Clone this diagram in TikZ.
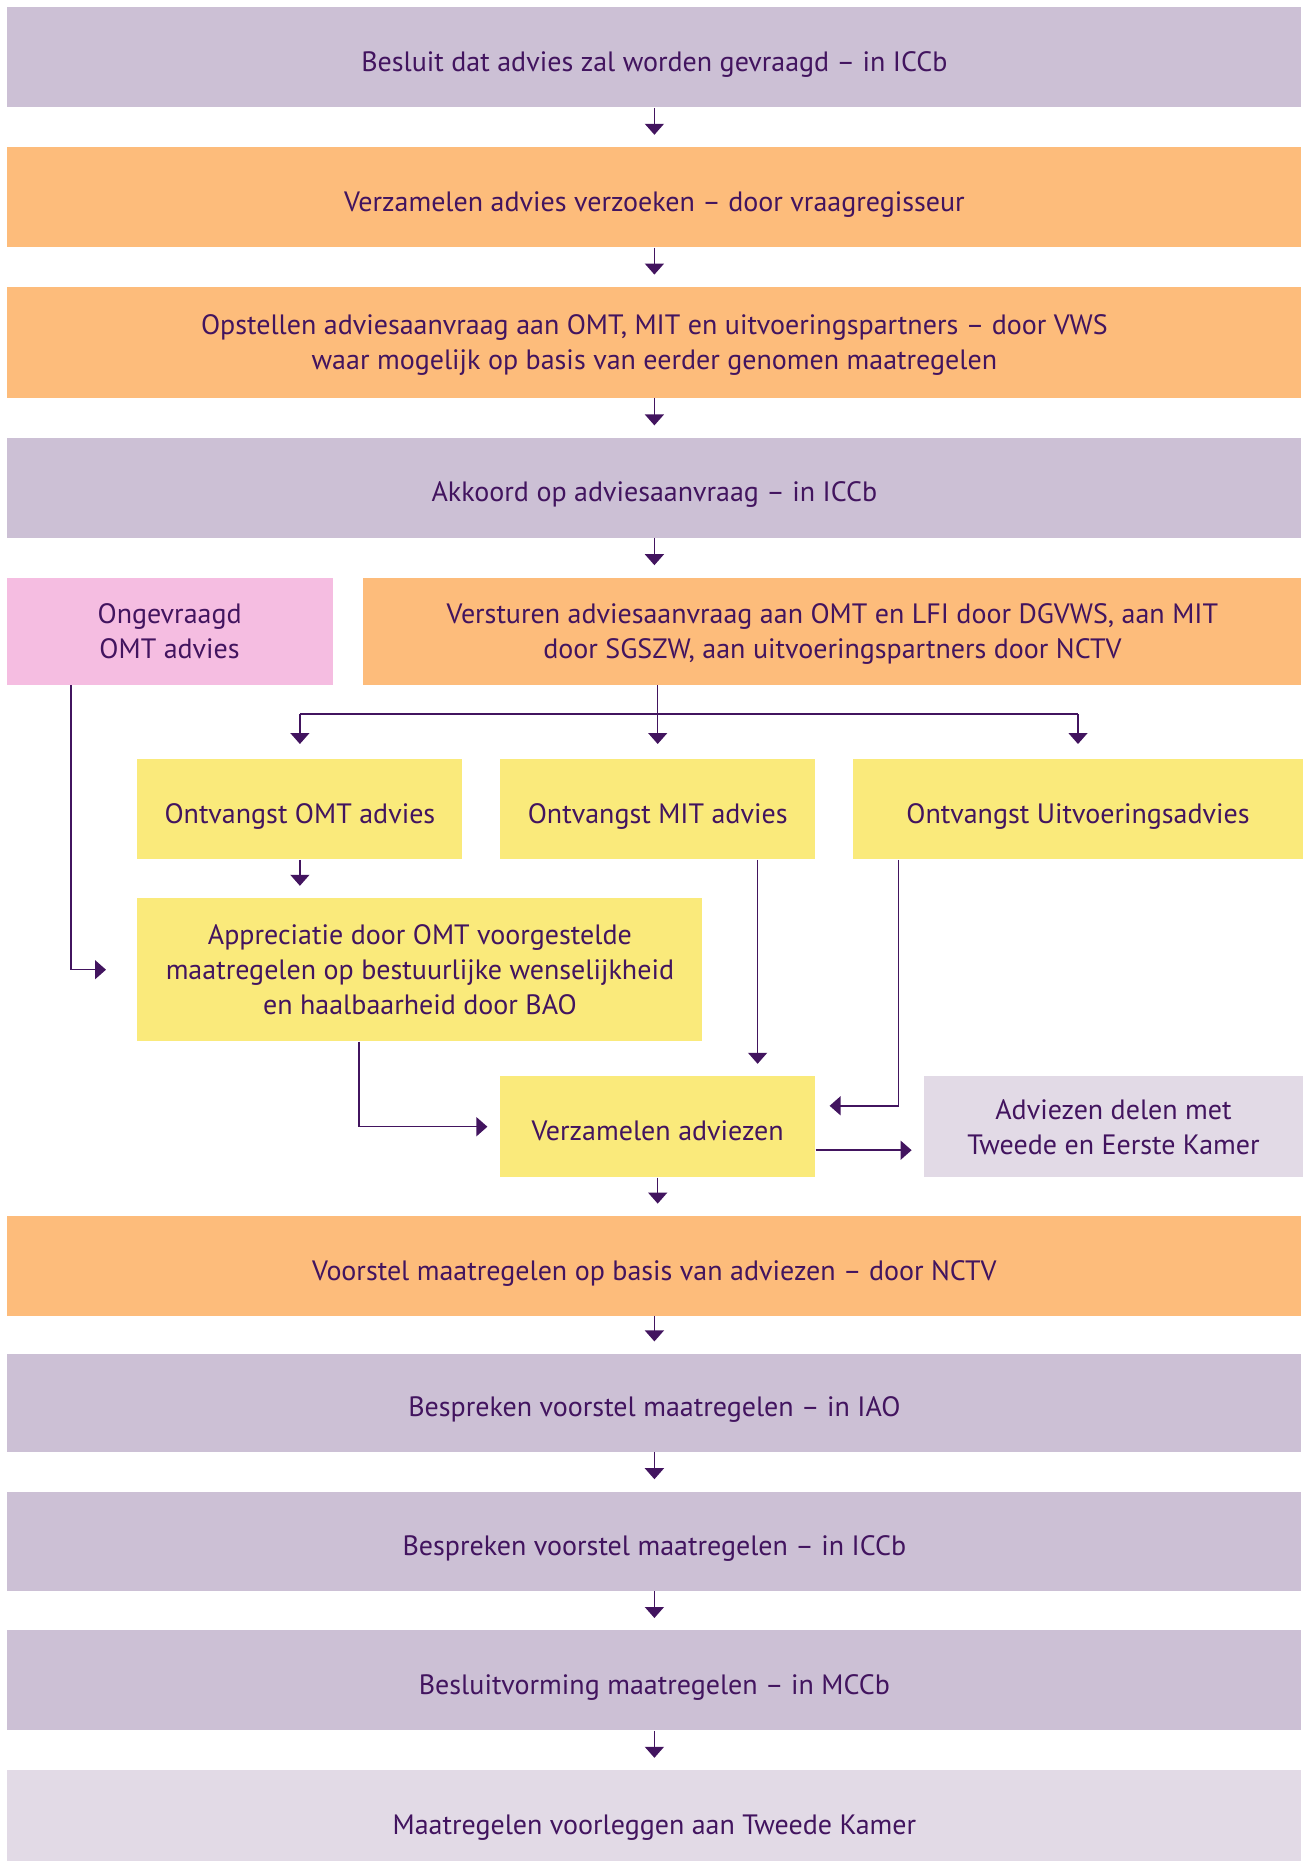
\documentclass[tikz,border=0pt]{standalone}
\usepackage{fontspec}
\setmainfont{PT Sans}
\usetikzlibrary{arrows.meta, positioning}
\definecolor{ink}{HTML}{42145F}
\definecolor{lavender}{HTML}{CCC0D5}
\definecolor{lavlight}{HTML}{E2DAE6}
\definecolor{orangebox}{HTML}{FDBC7B}
\definecolor{pinkbox}{HTML}{F5BDE1}
\definecolor{yellowbox}{HTML}{FAEA7B}
\tikzstyle{step_box} = [rectangle, inner sep=2pt, align=center, text=ink, text depth=0pt, font=\fontsize{14}{17.5}\selectfont]
\tikzstyle{one_line} = [step_box, text height=14pt]
\tikzstyle{phase_box} = [one_line, minimum width=647pt, minimum height=50pt]
\tikzstyle{flow_arrow} = [line width=0.75pt, draw=ink, -{Triangle[length=5.5pt, width=9.5pt]}, shorten >=6pt]

\begin{document}
\begin{tikzpicture}[x=1pt, y=1pt]
\useasboundingbox (0,0) rectangle (651.5,-930.5);

\node (besluit) [phase_box, fill=lavender, anchor=north west] at (3.5,-3.5) {Besluit dat advies zal worden gevraagd -- in ICCb};
\node (verzoeken) [phase_box, fill=orangebox, below=19.5pt of besluit] {Verzamelen advies verzoeken -- door vraagregisseur};
\node (opstellen) [step_box, fill=orangebox, minimum width=647pt, minimum height=55.5pt, below=19.5pt of verzoeken] {Opstellen adviesaanvraag aan OMT, MIT en uitvoeringspartners -- door VWS\\waar mogelijk op basis van eerder genomen maatregelen};
\node (akkoord) [phase_box, fill=lavender, below=19.5pt of opstellen] {Akkoord op adviesaanvraag -- in ICCb};
\node (versturen) [step_box, fill=orangebox, minimum width=469pt, minimum height=53.5pt, below=19.5pt of akkoord.south east, anchor=north east] {Versturen adviesaanvraag aan OMT en LFI door DGVWS, aan MIT\\door SGSZW, aan uitvoeringspartners door NCTV};
\node (ongevraagd) [step_box, fill=pinkbox, minimum width=163pt, minimum height=53.5pt, left=15pt of versturen] {Ongevraagd\\OMT advies};

\node (ontv_omt) [one_line, fill=yellowbox, minimum width=162.5pt, minimum height=50pt, anchor=north west] at (68.5,-379.5) {Ontvangst OMT advies};
\node (ontv_mit) [one_line, fill=yellowbox, minimum width=157.5pt, minimum height=50pt, right=18.5pt of ontv_omt] {Ontvangst MIT advies};
\node (ontv_uitv) [one_line, fill=yellowbox, minimum width=225pt, minimum height=50pt, right=18.5pt of ontv_mit] {Ontvangst Uitvoeringsadvies};

\node (appreciatie) [step_box, fill=yellowbox, minimum width=282.5pt, minimum height=71.5pt, below=19pt of ontv_omt.south west, anchor=north west] {Appreciatie door OMT voorgestelde\\maatregelen op bestuurlijke wenselijkheid\\en haalbaarheid door BAO};
\node (verz_adv) [one_line, fill=yellowbox, minimum width=157.5pt, minimum height=50.5pt, below=108pt of ontv_mit] {Verzamelen adviezen};
\node (adv_delen) [step_box, fill=lavlight, minimum width=189.5pt, minimum height=50.5pt, right=54pt of verz_adv] {Adviezen delen met\\Tweede en Eerste Kamer};

\node (voorstel) [phase_box, fill=orangebox, anchor=north] at ([yshift=-19pt]besluit.south |- verz_adv.south) {Voorstel maatregelen op basis van adviezen -- door NCTV};
\node (iao) [phase_box, fill=lavender, minimum height=49pt, below=18.5pt of voorstel] {Bespreken voorstel maatregelen -- in IAO};
\node (iccb) [phase_box, fill=lavender, minimum height=49.5pt, below=19.5pt of iao] {Bespreken voorstel maatregelen -- in ICCb};
\node (mccb) [phase_box, fill=lavender, below=19.5pt of iccb] {Besluitvorming maatregelen -- in MCCb};
\node (voorleggen) [phase_box, fill=lavlight, below=19.5pt of mccb] {Maatregelen voorleggen aan Tweede Kamer};

% main column
\draw [flow_arrow] (besluit) -- (verzoeken);
\draw [flow_arrow] (verzoeken) -- (opstellen);
\draw [flow_arrow] (opstellen) -- (akkoord);
\draw [flow_arrow] (akkoord.south) -- (akkoord.south |- versturen.north);

% split to the three advices
\coordinate (split) at ([yshift=-14.5pt]versturen.south -| ontv_mit);
\draw [line width=0.75pt, draw=ink] (split -| ontv_omt) -- (split -| ontv_uitv);
\draw [flow_arrow, shorten >=7.5pt] (versturen.south -| ontv_mit) -- (ontv_mit);
\draw [flow_arrow, shorten >=7.5pt] (split -| ontv_omt) -- (ontv_omt);
\draw [flow_arrow, shorten >=7.5pt] (split -| ontv_uitv) -- (ontv_uitv);

\draw [flow_arrow] (ontv_omt.south) -- (ontv_omt.south |- appreciatie.north);
\draw [flow_arrow, shorten >=15.5pt] ([xshift=32.5pt]ongevraagd.south west) |- (appreciatie.west);
\draw [flow_arrow] ([xshift=-29pt]ontv_mit.south east) -- ([xshift=-29pt]ontv_mit.south east |- verz_adv.north);
\draw [flow_arrow, shorten >=7pt] ([xshift=23pt]ontv_uitv.south west) |- ([yshift=-15pt]verz_adv.north east);
\draw [flow_arrow, shorten >=6.2pt] ([xshift=111pt]appreciatie.south west) |- (verz_adv.west);
\draw [flow_arrow] ([yshift=-11.75pt]verz_adv.east) -- ([yshift=-11.75pt]verz_adv.east -| adv_delen.west);

% after collecting
\draw [flow_arrow] (verz_adv) -- (verz_adv.south |- voorstel.north);
\draw [flow_arrow] (voorstel) -- (iao);
\draw [flow_arrow] (iao) -- (iccb);
\draw [flow_arrow] (iccb) -- (mccb);
\draw [flow_arrow] (mccb) -- (voorleggen);
\end{tikzpicture}
\end{document}
